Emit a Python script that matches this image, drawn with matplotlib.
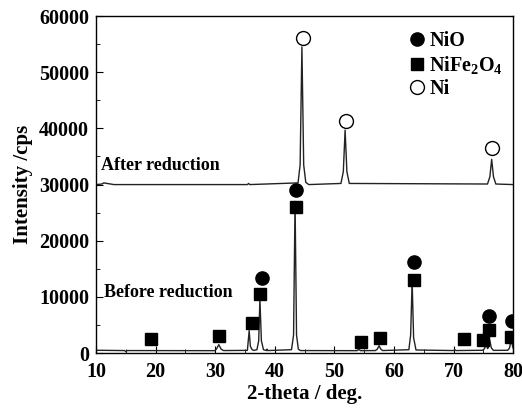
import matplotlib
matplotlib.use("Agg")
import matplotlib.pyplot as plt
from matplotlib.ticker import MultipleLocator

plt.rcParams['font.family'] = ['Liberation Serif', 'DejaVu Serif']
plt.rcParams['font.weight'] = 'bold'
plt.rcParams['mathtext.fontset'] = 'custom'
plt.rcParams['mathtext.rm'] = 'Liberation Serif:bold'
plt.rcParams['mathtext.bf'] = 'Liberation Serif:bold'
plt.rcParams['mathtext.default'] = 'bf'

# XRD trace before reduction (2-theta, cps)
before_x = [10, 14.8, 15.0, 15.2, 29.9, 30.2, 30.6, 31.0, 31.4, 35.4, 35.7, 35.9, 36.2, 36.5,
            37.0, 37.3, 37.5, 37.75, 38.1, 38.6, 38.7, 38.8, 42.8, 43.15, 43.4, 43.65, 43.95, 44.3,
            53.8, 54.1, 54.4, 56.9, 57.2, 57.5, 57.8, 58.1, 62.5, 62.8, 63.05, 63.3, 63.7,
            70.0, 70.2, 70.4, 74.9, 75.2, 75.5, 75.7, 75.85, 76.05, 76.35, 76.7,
            79.1, 79.4, 79.7, 79.9, 80]
before_y = [500, 450, 250, 450, 430, 700, 1500, 700, 450, 480, 4000, 1200, 600, 480,
            600, 2200, 9600, 2200, 600, 450, 700, 450, 600, 3200, 27000, 3200, 700, 450,
            430, 650, 430, 450, 700, 1300, 700, 450, 600, 3200, 12800, 2700, 550,
            450, 600, 450, 500, 800, 1700, 800, 1000, 2400, 900, 480,
            500, 900, 2600, 1200, 900]

# XRD trace after reduction
after_x = [10, 11.0, 11.3, 13, 35.4, 35.6, 35.8, 43.9, 44.25, 44.55, 44.85, 45.2, 45.7,
           51.1, 51.5, 51.8, 52.1, 52.5, 75.7, 76.1, 76.4, 76.7, 77.1, 80]
after_y = [30000, 30100, 30300, 30000, 30000, 30200, 30000, 30300, 33500, 54500, 33500, 30400, 30000,
           30200, 32300, 39700, 32300, 30200, 30100, 31400, 34500, 31400, 30100, 30000]

# phase markers
nio_x = [37.8, 43.6, 63.4, 76.0, 79.8]
nio_y = [13400, 29000, 16250, 6600, 5800]
nife_x = [19.2, 30.7, 36.1, 37.6, 43.6, 54.5, 57.7, 63.4, 71.8, 75.0, 76.0, 79.7]
nife_y = [2450, 3050, 5300, 10600, 26050, 1900, 2750, 13100, 2500, 2250, 4100, 2900]
ni_x = [44.7, 52.0, 76.4]
ni_y = [56150, 41400, 36550]

fig = plt.figure(figsize=(5.22, 4.12), dpi=100)
ax = fig.add_axes([0.184, 0.143, 0.799, 0.818])

ax.plot(before_x, before_y, color='#222222', lw=1.0)
ax.plot(after_x, after_y, color='#222222', lw=1.0)

ax.plot(nio_x, nio_y, 'o', color='black', ms=9.5, ls='none', label='NiO')
ax.plot(nife_x, nife_y, 's', color='black', ms=9, ls='none', label='NiFe$_2$O$_4$')
ax.plot(ni_x, ni_y, 'o', mfc='white', mec='black', mew=1.0, ms=10, ls='none', label='Ni')

ax.text(10.9, 33400, 'After reduction', fontsize=13, fontweight='bold', va='center')
ax.text(11.3, 10700, 'Before reduction', fontsize=13, fontweight='bold', va='center')

ax.set_xlim(10, 80)
ax.set_ylim(0, 60000)
ax.xaxis.set_major_locator(MultipleLocator(10))
ax.xaxis.set_minor_locator(MultipleLocator(5))
ax.yaxis.set_major_locator(MultipleLocator(10000))
ax.yaxis.set_minor_locator(MultipleLocator(5000))
ax.tick_params(which='both', direction='in', labelsize=14.5)
ax.tick_params(axis='x', pad=6.5)
ax.tick_params(axis='y', pad=5)
ax.tick_params(which='major', length=5)
ax.tick_params(which='minor', length=3)
for s in ax.spines.values():
    s.set_linewidth(1.0)

ax.set_xlabel('2-theta / deg.', fontsize=15, fontweight='bold', labelpad=1)
ax.set_ylabel('Intensity /cps', fontsize=15, fontweight='bold', labelpad=4)

ax.legend(loc='upper right', frameon=False, fontsize=14.5, handletextpad=0.1,
          borderaxespad=0.1, labelspacing=0.15, handlelength=1.0,
          bbox_to_anchor=(1.0, 0.985))

fig.savefig('out.png', dpi=100)
